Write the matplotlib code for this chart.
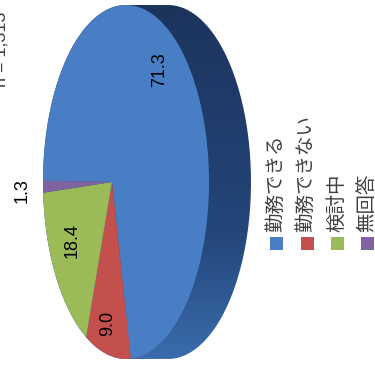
import matplotlib
matplotlib.use('Agg')
import matplotlib.pyplot as plt
import numpy as np
from matplotlib.patches import Ellipse, PathPatch, Rectangle
from matplotlib.path import Path
from matplotlib.colors import LinearSegmentedColormap

# data
labels = ['勤務できる', '勤務できない', '検討中', '無回答']
values = [71.3, 9.0, 18.4, 1.3]
colors = ['#4a7ec4', '#c3504c', '#9bbb59', '#8064a2']
n_text = 'n = 1,313'

W, H = 375, 367
fig = plt.figure(figsize=(W / 100, H / 100), dpi=100)
ax = fig.add_axes([0, 0, 1, 1])

# pixel -> figure fraction
def fx(x):
    return x / W

def fy(y):
    return 1 - y / H

# apex of the pie in pixels, scale of one unit
ax0, ay0 = 112, 182
ux, uy = 83, 177
xlim = (-ax0 / ux, (W - ax0) / ux)
ylim = (-(H - ay0) / uy, ay0 / uy)

ecx = (126 - ax0) / ux   # centre of top ellipse (units)
depth = 42 / ux

# side of the cylinder
t1 = np.linspace(np.pi / 2, 3 * np.pi / 2, 100)
t2 = np.linspace(-np.pi / 2, np.pi / 2, 100)
px = np.concatenate([ecx + np.cos(t1), ecx + depth + np.cos(t2)])
py = np.concatenate([np.sin(t1), np.sin(t2)])
side = PathPatch(Path(np.column_stack([px, py]), closed=False), facecolor='none', edgecolor='none')
ax.add_patch(side)
cmap = LinearSegmentedColormap.from_list('side', [(0, '#3a6cad'), (0.35, '#24467a'), (1, '#1c345c')])
grad = np.linspace(0, 1, 256).reshape(-1, 1)
im = ax.imshow(grad, extent=[ecx - 1, ecx + depth + 1, -1, 1], origin='lower',
               cmap=cmap, aspect='auto', zorder=1)
im.set_clip_path(side)

# top face
face = Ellipse((ecx, 0), 2, 2, facecolor='none', edgecolor='none')
ax.add_patch(face)
wedges, _ = ax.pie(values, colors=colors, startangle=179.5, counterclock=False,
                   radius=1.3, wedgeprops=dict(linewidth=0))
for w in wedges:
    w.set_clip_on(True)
    w.set_clip_path(face)
    w.set_zorder(2)

ax.set_aspect('auto')
ax.set_xlim(*xlim)
ax.set_ylim(*ylim)
ax.axis('off')

num_font = dict(family='Liberation Sans', fontsize=13, color='black', rotation=90,
                ha='center', va='center')
label_pos = [(160, 70), (108, 323), (72, 241), (22, 191)]
for v, (x, y) in zip(values, label_pos):
    fig.text(fx(x), fy(y), f'{v:.1f}', **num_font)

fig.text(fx(1), fy(12), n_text, family='Liberation Sans', fontsize=13, color='#404040',
         rotation=90, ha='center', va='top')

# legend, rotated
leg_x = [276.5, 307, 337.5, 367.5]
for lab, c, x in zip(labels, colors, leg_x):
    fig.patches.append(Rectangle((fx(x - 6.5), fy(250)), 13 / W, 13 / H, facecolor=c,
                                 edgecolor='none', transform=fig.transFigure))
    fig.text(fx(x - 1), fy(232), lab, family=['Noto Sans CJK JP', 'DejaVu Sans'], fontsize=14,
             color='#404040', rotation=90, ha='center', va='bottom')

fig.savefig('out.png', dpi=100)
